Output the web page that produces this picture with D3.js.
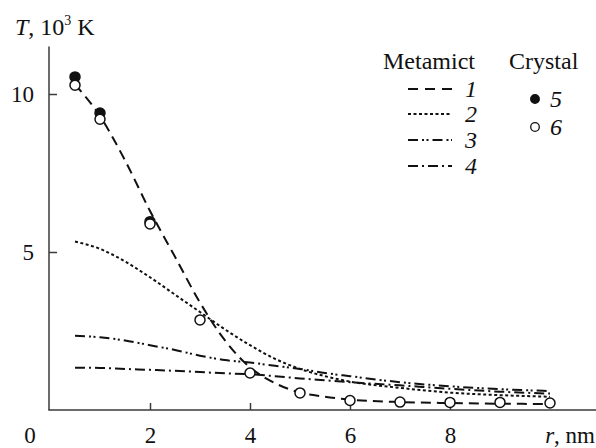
<!DOCTYPE html>
<html>
<head>
<meta charset="utf-8">
<script src="https://cdn.jsdelivr.net/npm/d3@7"></script>
<style>
  html, body { margin: 0; padding: 0; background: #fff; }
  svg { display: block; }
</style>
</head>
<body>
<svg id="chart" width="596" height="448"></svg>
<script>
// Radius grid shared by the calculated curves (nm)
const curveR = [0.5, 1, 1.5, 2, 2.5, 3, 3.5, 4, 4.5, 5, 5.5, 6, 7, 8, 9, 10];
// Metamict zircon, calculated temperature profiles (10^3 K)
const metamict1 = [10.3, 9.3, 7.9, 6.3, 4.85, 3.4, 2.2, 1.35, 0.85, 0.55, 0.42, 0.33, 0.25, 0.22, 0.2, 0.19];
const metamict2 = [5.33, 5.1, 4.7, 4.2, 3.65, 3.1, 2.55, 2.05, 1.62, 1.3, 1.07, 0.9, 0.7, 0.55, 0.47, 0.42];
const metamict3 = [2.35, 2.3, 2.2, 2.05, 1.9, 1.72, 1.58, 1.5, 1.4, 1.3, 1.17, 1.07, 0.88, 0.75, 0.66, 0.6];
const metamict4 = [1.34, 1.33, 1.3, 1.27, 1.24, 1.2, 1.16, 1.13, 1.07, 1.0, 0.94, 0.88, 0.78, 0.67, 0.58, 0.52];
// Crystal, computed points
const crystal5R = [0.5, 1, 2];
const crystal5T = [10.54, 9.4, 5.96];
const crystal6R = [0.5, 1, 2, 3, 4, 5, 6, 7, 8, 9, 10];
const crystal6T = [10.28, 9.2, 5.89, 2.85, 1.17, 0.54, 0.3, 0.25, 0.24, 0.24, 0.22];
// Axis ticks
const xTicks = [2, 4, 6, 8];
const yTicks = [5, 10];

const serif = "'Liberation Serif', 'Times New Roman', serif";
const svg = d3.select("#chart");
const x = d3.scaleLinear().domain([0, 10]).range([50, 550]);
const y = d3.scaleLinear().domain([0, 11.5]).range([410, 46.6]);
const axisColor = "#3a3a3a";
const tickFont = 23;
const textFont = 24;
const xLabelY = 33;

function txt(sel, size) {
  return sel.style("font-family", serif).style("font-size", size + "px").attr("fill", "#111");
}

// Axes
const xAxis = svg.append("g").attr("transform", `translate(0,${y(0)})`)
  .call(d3.axisBottom(x).tickValues(xTicks).tickSizeInner(-7).tickSizeOuter(0).tickPadding(0).tickFormat(d3.format("d")));
xAxis.select(".domain").remove();
xAxis.selectAll(".tick line").attr("stroke", axisColor).attr("stroke-width", 1.5);
txt(xAxis.selectAll(".tick text").attr("y", xLabelY).attr("dy", null), tickFont);

const yAxis = svg.append("g").attr("transform", `translate(${x(0) - 1},0)`)
  .call(d3.axisLeft(y).tickValues(yTicks).tickSizeInner(-8).tickSizeOuter(0).tickPadding(0).tickFormat(d3.format("d")));
yAxis.select(".domain").remove();
yAxis.selectAll(".tick line").attr("stroke", axisColor).attr("stroke-width", 1.5);
txt(yAxis.selectAll(".tick text").attr("x", -15).attr("dy", "0.34em"), tickFont);

svg.append("line").attr("x1", x(0) - 1.75).attr("x2", 596).attr("y1", y(0)).attr("y2", y(0))
  .attr("stroke", axisColor).attr("stroke-width", 1.5);
svg.append("line").attr("x1", x(0) - 1).attr("x2", x(0) - 1).attr("y1", y(0)).attr("y2", y(11.5))
  .attr("stroke", axisColor).attr("stroke-width", 1.5);

// Shared origin label
txt(svg.append("text").attr("x", 30).attr("y", y(0) + xLabelY).attr("text-anchor", "middle"), tickFont).text("0");

// Axis titles
const yTitle = txt(svg.append("text").attr("x", 15).attr("y", 35), textFont);
yTitle.append("tspan").style("font-style", "italic").text("T");
yTitle.append("tspan").text(", 10");
yTitle.append("tspan").style("font-size", "14px").attr("dy", -10).text("3");
yTitle.append("tspan").attr("dy", 10).text(" K");

const xTitle = txt(svg.append("text").attr("x", 595).attr("y", y(0) + xLabelY).attr("text-anchor", "end"), tickFont);
xTitle.append("tspan").style("font-style", "italic").text("r");
xTitle.append("tspan").text(", nm");

// Curve styles
const curveStyles = [
  { data: metamict1, dash: "10,6", label: "1" },
  { data: metamict2, dash: "3,2.5", label: "2" },
  { data: metamict3, dash: "10,4,2,2.5,2,4", label: "3" },
  { data: metamict4, dash: "10,4,2,4", label: "4" }
];
const line = d3.line().x(d => x(d[0])).y(d => y(d[1])).curve(d3.curveMonotoneX);
svg.append("g").selectAll("path").data(curveStyles).join("path")
  .attr("d", s => line(curveR.map((r, i) => [r, s.data[i]])))
  .attr("fill", "none").attr("stroke", "#111").attr("stroke-width", 2)
  .attr("stroke-dasharray", s => s.dash);

// Crystal points: filled first, open on top
svg.append("g").selectAll("circle").data(crystal5R.map((r, i) => [r, crystal5T[i]])).join("circle")
  .attr("cx", d => x(d[0])).attr("cy", d => y(d[1])).attr("r", 5)
  .attr("fill", "#111").attr("stroke", "#111").attr("stroke-width", 1.5);
svg.append("g").selectAll("circle").data(crystal6R.map((r, i) => [r, crystal6T[i]])).join("circle")
  .attr("cx", d => x(d[0])).attr("cy", d => y(d[1])).attr("r", 5)
  .attr("fill", "#fff").attr("stroke", "#111").attr("stroke-width", 1.5);

// Legend
const legend = svg.append("g");
txt(legend.append("text").attr("x", 383).attr("y", 69), textFont).text("Metamict");
txt(legend.append("text").attr("x", 509).attr("y", 69), textFont).text("Crystal");
const legendY = [89, 114, 140, 166];
curveStyles.forEach((s, i) => {
  legend.append("line").attr("x1", 408).attr("x2", 452).attr("y1", legendY[i]).attr("y2", legendY[i])
    .attr("stroke", "#111").attr("stroke-width", 2)
    .attr("stroke-dasharray", i === 0 ? "10,7" : s.dash);
  txt(legend.append("text").attr("x", 471).attr("y", legendY[i] + 8).attr("text-anchor", "middle"), textFont)
    .style("font-style", "italic").text(s.label);
});
const crystalLegend = [{ fill: "#111", label: "5", yy: 99 }, { fill: "#fff", label: "6", yy: 127 }];
crystalLegend.forEach(c => {
  legend.append("circle").attr("cx", 535).attr("cy", c.yy).attr("r", 4.3)
    .attr("fill", c.fill).attr("stroke", "#111").attr("stroke-width", 1.3);
  txt(legend.append("text").attr("x", 556).attr("y", c.yy + 8).attr("text-anchor", "middle"), textFont)
    .style("font-style", "italic").text(c.label);
});
</script>
</body>
</html>
